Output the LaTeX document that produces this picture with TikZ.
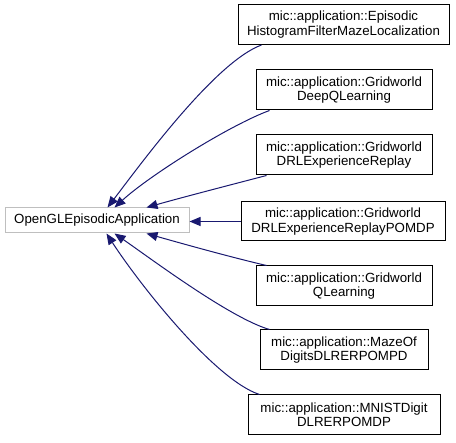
\documentclass[tikz,border=0pt]{standalone}
\usepackage{fontspec}
\setmainfont{Liberation Sans}
\usetikzlibrary{arrows.meta,calc}
\definecolor{edgeblue}{HTML}{191970}
\definecolor{lgray}{HTML}{BFBFBF}
\begin{document}
\begin{tikzpicture}[x=1pt,y=-1pt,
  cls/.style={draw=black, line width=1pt, fill=white, inner sep=0pt, align=center, minimum height=40pt, font=\fontsize{13.3}{14.3}\selectfont},
  base/.style={draw=lgray, line width=1pt, fill=white, inner sep=0pt, font=\fontsize{13.3}{14.3}\selectfont},
  inh/.style={draw=edgeblue, line width=1pt, -{Triangle[length=11pt,width=9pt]}}
]
\useasboundingbox (0,0) rectangle (456,443);
\node[base, minimum width=184pt, minimum height=25pt] (L) at (97,220.5) {OpenGLEpisodicApplication};
\node[cls, minimum width=211pt, minimum height=40pt] (b1) at (343.5,24.5) {mic::application::Episodic\\HistogramFilterMazeLocalization};
\node[cls, minimum width=176pt] (b2) at (344,90) {mic::application::Gridworld\\DeepQLearning};
\node[cls, minimum width=176pt] (b3) at (344,155) {mic::application::Gridworld\\DRLExperienceReplay};
\node[cls, minimum width=204pt, minimum height=39pt] (b4) at (343,221.5) {mic::application::Gridworld\\DRLExperienceReplayPOMDP};
\node[cls, minimum width=176pt] (b5) at (344,286) {mic::application::Gridworld\\QLearning};
\node[cls, minimum width=168pt] (b6) at (344,350) {mic::application::MazeOf\\DigitsDLRERPOMPD};
\node[cls, minimum width=192pt] (b7) at (344,415) {mic::application::MNISTDigit\\DLRERPOMDP};

\draw[inh] ($(b1.south west)+(24,0)$) .. controls (215,62) and (140,165) .. ($(L.north west)+(103,0)$);
\draw[inh] ($(b2.south west)+(14,0)$) .. controls (230,125) and (150,175) .. ($(L.north west)+(110,0)$);
\draw[inh] ($(b3.south west)+(11,0)$) .. controls (230,185) and (180,198) .. ($(L.north west)+(142,0)$);
\draw[inh] (b4.west) -- (L.east |- b4.west);
\draw[inh] ($(b5.north west)+(11,0)$) .. controls (230,257) and (180,243) .. ($(L.south west)+(142,0)$);
\draw[inh] ($(b6.north west)+(10,0)$) .. controls (230,318) and (150,258) .. ($(L.south west)+(110,0)$);
\draw[inh] ($(b7.north west)+(12,0)$) .. controls (215,380) and (140,285) .. ($(L.south west)+(102,0)$);
\end{tikzpicture}
\end{document}
